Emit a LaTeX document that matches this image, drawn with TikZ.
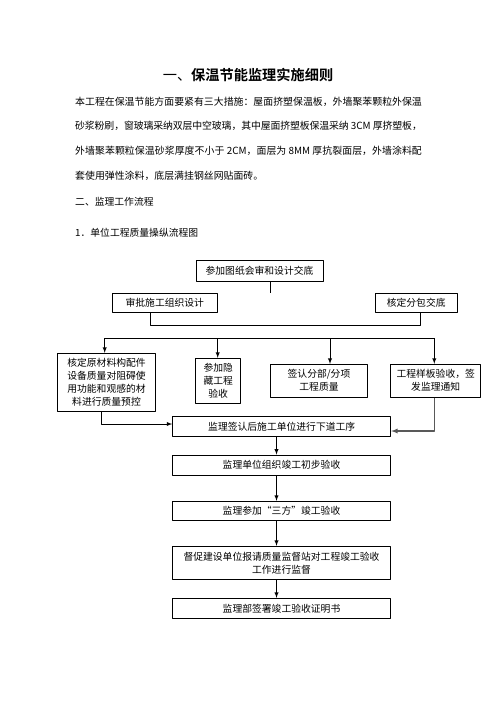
\documentclass[tikz,border=0pt]{standalone}
\usepackage{fontspec}
\newfontfamily\cjk[BoldFont={Noto Sans CJK SC Bold}]{Noto Sans CJK SC}
\XeTeXlinebreaklocale "zh"
\XeTeXlinebreakskip=0pt plus 1.5pt minus 0.6pt
\tikzset{
  box/.style={draw, line width=0.9pt, inner sep=0pt, align=center, font=\cjk\fontsize{9.8}{13}\selectfont},
  flow/.style={->, line width=0.9pt},
  line/.style={line width=0.9pt},
}
\begin{document}
\begin{tikzpicture}[x=1pt, y=-1pt, >=latex, line join=round, font=\cjk\fontsize{9.8}{13}\selectfont]
\path[use as bounding box, fill=white] (0,0) rectangle (496,702);
% heading and text
\node[font=\cjk\fontsize{14.2}{16}\selectfont] (title) at (248,75) {一、{\bfseries 保温节能监理实施细则}};
\node[anchor=north west, inner sep=0pt, text width=346.7pt, align=justify, font=\cjk\fontsize{9.9}{24.8}\selectfont] (intro) at (75,96.5) {\noindent 本工程在保温节能方面要紧有三大措施：屋面挤塑保温板，外墙聚苯颗粒外保温\linebreak%
砂浆粉刷，窗玻璃采纳双层中空玻璃，其中屋面挤塑板保温采纳 3CM 厚挤塑板，\linebreak%
外墙聚苯颗粒保温砂浆厚度不小于 2CM，面层为 8MM 厚抗裂面层，外墙涂料配\linebreak%
套使用弹性涂料，底层满挂钢丝网贴面砖。};
\node[anchor=west, inner sep=0pt] (sec) at (75,201.7) {二、监理工作流程};
\node[anchor=west, inner sep=0pt] (chart) at (75,232.7) {1．单位工程质量操纵流程图};
% boxes
\node[box, minimum width=127pt, minimum height=21pt] (meet) at (259.5,270.5) {参加图纸会审和设计交底};
\node[box, minimum width=105pt, minimum height=19pt] (plan) at (164.8,302.8) {审批施工组织设计};
\node[box, minimum width=82pt, minimum height=19pt] (sub) at (416.2,302.8) {核定分包交底};
\node[box, minimum width=98.4pt, minimum height=58.4pt] (mat) at (106.5,382.5) {核定原材料构配件\\设备质量对阻碍使\\用功能和观感的材\\料进行质量预控};
\node[box, minimum width=45pt, minimum height=45pt] (hide) at (218.2,380.8) {参加隐\\藏工程\\验收};
\node[box, minimum width=96.6pt, minimum height=32.7pt] (part) at (319,380.7) {签认分部/分项\\工程质量};
\node[box, minimum width=90pt, minimum height=33pt] (model) at (435.7,380.7) {工程样板验收，签\\发监理通知};
\node[box, minimum width=218pt, minimum height=20.7pt] (next) at (281.7,426.3) {监理签认后施工单位进行下道工序};
\node[box, minimum width=218.4pt, minimum height=20.3pt] (pre) at (281.5,465.2) {监理单位组织竣工初步验收};
\node[box, minimum width=218.4pt, minimum height=19pt] (three) at (281.5,510.8) {监理参加“三方”竣工验收};
\node[box, minimum width=218.4pt, minimum height=33pt] (urge) at (281.5,562.8) {督促建设单位报请质量监督站对工程竣工验收\\工作进行监督};
\node[box, minimum width=218.4pt, minimum height=20pt] (cert) at (281.5,608.3) {监理部签署竣工验收证明书};
% connectors
\coordinate (stub) at (270,0);
\draw[line] (meet.south -| stub) -- (plan.north -| stub);
\coordinate (bl) at (150.5,325);
\coordinate (br) at (420.3,325);
\draw[line] (plan.south -| bl) -- (bl) -- (br) -- (sub.south -| br);
\foreach \n/\x in {mat/104.7, hide/217.7, part/330, model/434.3}{
  \coordinate (t\n) at (\x,338.3);
  \draw[flow] (t\n) -- (\n.north -| t\n);
}
\draw[line] (tmat) -- (tmodel);
\coordinate (mx) at (101.7,424);
\coordinate (dx) at (434.3,431);
\draw[flow] (mat.south -| mx) -- (mx) -- (next.west |- mx);
\draw[flow, line width=1.2pt, black!65] (model.south -| dx) -- (dx) -- (next.east |- dx);
\coordinate (spine) at (276.5,0);
\foreach \a/\b in {next/pre, pre/three, three/urge, urge/cert}
  \draw[flow] (\a.south -| spine) -- (\b.north -| spine);
\end{tikzpicture}
\end{document}
